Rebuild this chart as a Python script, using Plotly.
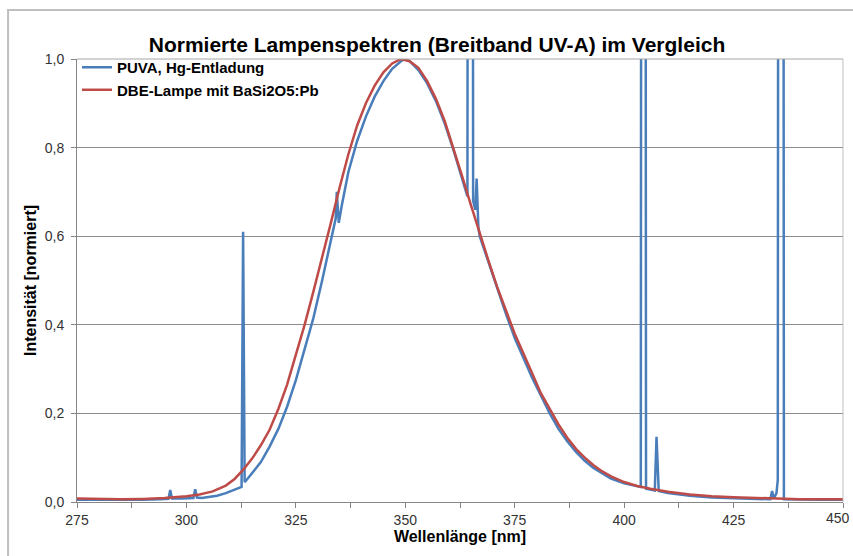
import plotly.graph_objects as go

# PUVA, Hg-Entladung (blue)
puva_nm = [275, 280, 285, 290, 294, 295.9, 296.3, 296.7, 299, 301.6, 302.0, 302.4, 303.5, 305, 307, 309, 311,
           312.6, 312.95, 313.3, 313.6, 315, 317, 319, 321, 323, 325, 327, 329, 331, 333, 334.1, 334.35, 334.8,
           335.5, 337, 339, 341, 343, 345, 347, 349, 350, 351, 353, 355, 357, 359, 361, 363, 364.2, 364.4,
           365.3, 365.5, 366.0, 366.3, 366.7, 367, 369, 371, 373, 375, 377, 379, 381, 383, 385, 387, 389, 391,
           393, 395, 397, 400, 403, 403.8, 404.0, 404.8, 405.0, 407, 407.4, 407.9, 410, 415, 420, 425, 430,
           433.4, 433.8, 434.2, 434.8, 435.1, 435.3, 436.3, 436.5, 440, 445, 450]
puva_int = [0.005, 0.005, 0.004, 0.005, 0.006, 0.007, 0.027, 0.008, 0.008, 0.009, 0.029, 0.010, 0.009, 0.011,
            0.014, 0.020, 0.027, 0.034, 0.61, 0.045, 0.048, 0.065, 0.09, 0.125, 0.165, 0.215, 0.275, 0.345, 0.415,
            0.50, 0.59, 0.64, 0.70, 0.63, 0.67, 0.745, 0.815, 0.87, 0.915, 0.95, 0.978, 0.995, 1.0, 0.995, 0.975,
            0.945, 0.905, 0.855, 0.795, 0.73, 0.69, 3.0, 3.0, 0.68, 0.66, 0.73, 0.62, 0.60, 0.54, 0.48, 0.425,
            0.37, 0.325, 0.28, 0.24, 0.20, 0.165, 0.137, 0.113, 0.093, 0.077, 0.064, 0.053, 0.042, 0.035, 0.034,
            3.0, 3.0, 0.030, 0.026, 0.147, 0.025, 0.020, 0.014, 0.010, 0.008, 0.007, 0.006, 0.025, 0.008, 0.020,
            0.050, 3.0, 3.0, 0.006, 0.005, 0.005, 0.005]

# DBE-Lampe mit BaSi2O5:Pb (red)
dbe_nm = [275, 280, 285, 290, 295, 300, 303, 306, 309, 311, 313, 315, 317, 319, 321, 323, 325, 327, 329, 331,
          333, 335, 337, 339, 341, 343, 345, 347, 349, 351, 353, 355, 357, 359, 361, 363, 365, 367, 369, 371,
          373, 375, 377, 379, 381, 383, 385, 387, 389, 391, 393, 395, 397, 400, 403, 406, 410, 415, 420, 425,
          430, 435, 440, 445, 450]
dbe_int = [0.008, 0.007, 0.006, 0.007, 0.009, 0.013, 0.017, 0.024, 0.037, 0.052, 0.073, 0.098, 0.128, 0.163,
           0.21, 0.265, 0.33, 0.40, 0.475, 0.55, 0.63, 0.71, 0.785, 0.85, 0.90, 0.94, 0.97, 0.99, 1.0, 0.995,
           0.98, 0.95, 0.91, 0.86, 0.80, 0.735, 0.67, 0.605, 0.545, 0.485, 0.43, 0.38, 0.335, 0.29, 0.245, 0.21,
           0.175, 0.145, 0.12, 0.10, 0.083, 0.069, 0.058, 0.045, 0.036, 0.030, 0.023, 0.017, 0.013, 0.011,
           0.009, 0.007, 0.006, 0.006, 0.006]

x_ticks = [275, 300, 325, 350, 375, 400, 425, 450]
x_ticktext = ["275", "300", "325", "350", "375", "400", "425", ""]
last_tick_label = "450"
y_ticks = [0.0, 0.2, 0.4, 0.6, 0.8, 1.0]

FONT = "Liberation Sans, Arial, sans-serif"

fig = go.Figure()
fig.add_trace(go.Scatter(x=puva_nm, y=puva_int, mode="lines", name="<b>PUVA, Hg-Entladung</b>",
                         line=dict(color="#4A7EBB", width=2.5)))
fig.add_trace(go.Scatter(x=dbe_nm, y=dbe_int, mode="lines", name="<b>DBE-Lampe mit BaSi2O5:Pb</b>",
                         line=dict(color="#BE4B48", width=2.5)))

fig.update_layout(
    width=853, height=556,
    margin=dict(l=77, r=10, t=59, b=54),
    paper_bgcolor="white", plot_bgcolor="white",
    separators=",.",
    font=dict(family=FONT, size=14, color="#222"),
    title=dict(text="<b>Normierte Lampenspektren (Breitband UV-A) im Vergleich</b>",
               x=437 / 853, xref="container", xanchor="center",
               y=1 - 45 / 556, yref="container", yanchor="middle",
               font=dict(size=21, color="#000", family=FONT)),
    showlegend=True,
    legend=dict(x=0.0, y=1.018, xanchor="left", yanchor="top", bgcolor="rgba(0,0,0,0)",
                font=dict(size=15, color="#000", family=FONT), itemwidth=30,
                tracegroupgap=0, borderwidth=0),
    xaxis=dict(range=[275, 450], tickvals=x_ticks, ticktext=x_ticktext, ticks="outside", ticklen=5,
               tickcolor="#868686",
               showline=True, linecolor="#868686", linewidth=1, showgrid=False, zeroline=False,
               minor=dict(dtick=12.5, tick0=275, ticks="outside", ticklen=5, tickcolor="#868686"),
               tickfont=dict(size=14, color="#333"), ticklabeloverflow="allow", automargin=False,
               title=dict(text="<b>Wellenlänge [nm]</b>", font=dict(size=16, color="#000"), standoff=4)),
    yaxis=dict(range=[0, 1], tickvals=y_ticks, tickformat=".1f", ticks="outside", ticklen=5,
               tickcolor="#868686", showline=True, linecolor="#868686", linewidth=1,
               showgrid=True, gridcolor="#8C8C8C", gridwidth=1, zeroline=False,
               tickfont=dict(size=14, color="#333"), ticklabelstandoff=4,
               title=dict(text="<b>Intensität [normiert]</b>", font=dict(size=16, color="#000"), standoff=4)),
    annotations=[
        dict(text=last_tick_label, x=x_ticks[-1], xref="x", y=0, yref="y", xanchor="right", yanchor="top",
             xshift=9, yshift=-6, showarrow=False, font=dict(size=14, color="#333", family=FONT)),
    ],
    shapes=[
        dict(type="line", xref="paper", yref="paper", x0=1, x1=1, y0=0, y1=1,
             line=dict(color="#BFBFBF", width=1)),
        dict(type="line", xref="paper", yref="paper", x0=0, x1=1, y0=1, y1=1,
             line=dict(color="#A6A6A6", width=1)),
        dict(type="rect", xref="paper", yref="paper", x0=-0.090, x1=1.04, y0=-0.2, y1=1.1106,
             line=dict(color="#BFBFBF", width=2), layer="below"),
    ],
)

fig.write_html("out.html")
